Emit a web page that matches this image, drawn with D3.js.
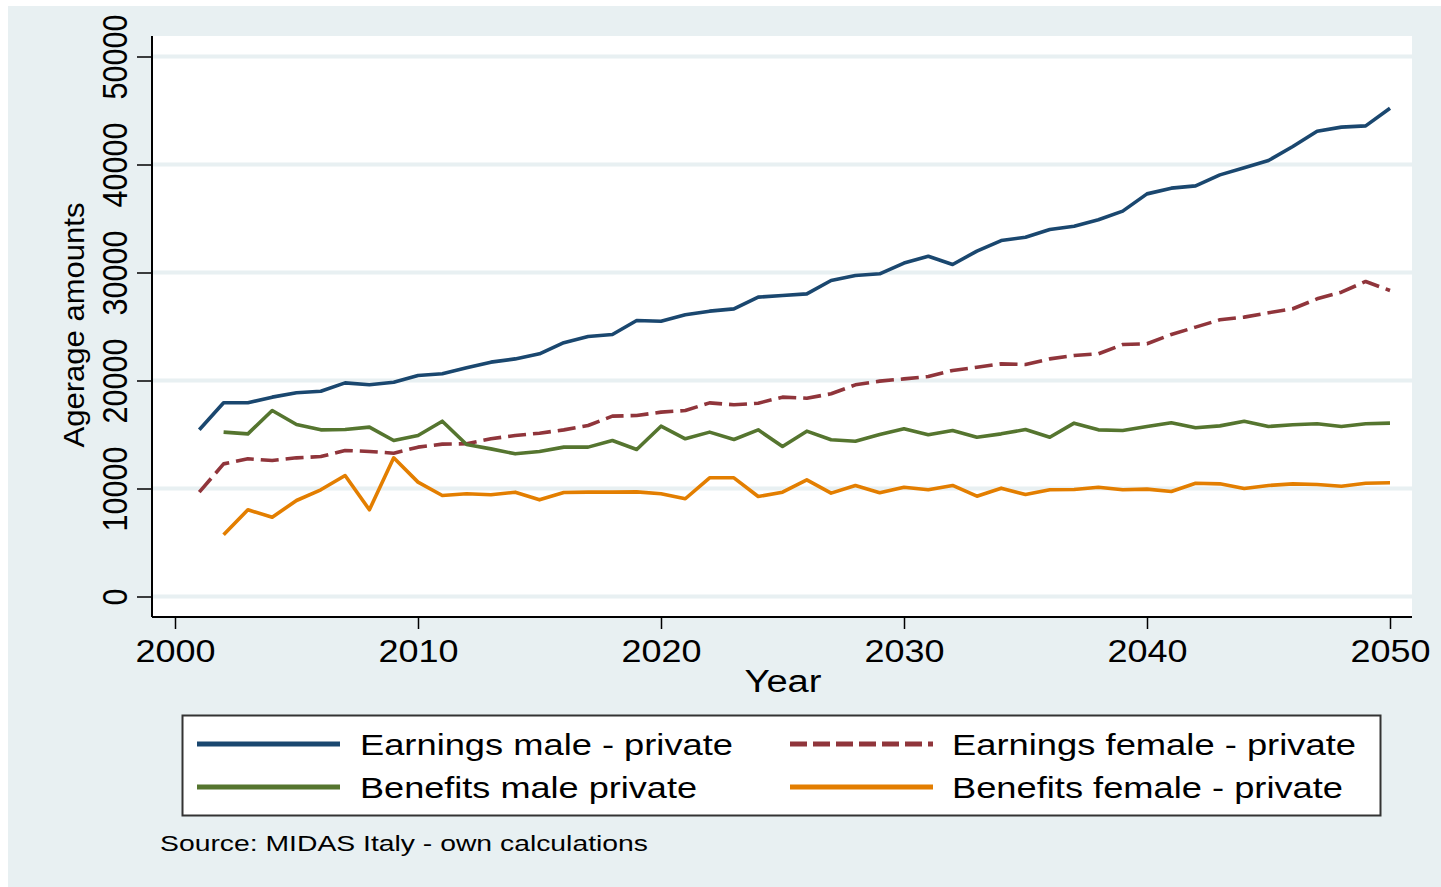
<!DOCTYPE html>
<html>
<head>
<meta charset="utf-8">
<script src="https://cdn.jsdelivr.net/npm/d3@7"></script>
<style>
body{margin:0;background:#fff;}
text{font-family:"Liberation Sans",Arial,sans-serif;fill:#000;}
</style>
</head>
<body>
<div id="chart"></div>
<script>
// data, one value per year
let yearsEarn = d3.range(2001, 2051);
let yearsBen = d3.range(2002, 2051);

let earnMale = [15435,17935,17935,18460,18860,19010,19780,19600,19840,20460,
  20620,21170,21700,22000,22470,23500,24070,24260,25560,25490,
  26080,26420,26630,27720,27870,28020,29260,29720,29880,30870,
  31510,30740,31980,32960,33270,33980,34290,34880,35680,37280,
  37810,38020,39040,39690,40370,41670,43080,43460,43580,45210];
let earnFemale = [9660,12280,12750,12590,12840,12960,13520,13430,13270,13830,
  14110,14140,14600,14910,15120,15430,15830,16700,16760,17070,
  17220,17930,17750,17900,18460,18360,18770,19600,19940,20150,
  20370,20930,21230,21540,21480,22000,22310,22470,23330,23400,
  24260,24940,25620,25870,26270,26640,27560,28180,29170,28330];
let benMale = [15220,15060,17220,15930,15430,15460,15680,14440,14910,
  16230,14070,13670,13210,13430,13830,13830,14440,13610,15770,
  14600,15220,14540,15430,13890,15310,14510,14380,15000,15530,
  14970,15370,14750,15060,15460,14750,16050,15430,15370,15740,
  16080,15620,15800,16230,15740,15900,15990,15740,15990,16050];
let benFemale = [5710,8030,7340,8890,9880,11200,8030,12840,10590,
  9350,9510,9420,9660,8950,9630,9660,9660,9690,9510,
  9050,10990,10990,9260,9660,10800,9570,10280,9600,10120,
  9880,10280,9290,10030,9440,9880,9910,10120,9880,9940,
  9720,10490,10430,10000,10280,10430,10370,10210,10490,10530];

let xTicks = [2000,2010,2020,2030,2040,2050];
let yTicks = [0,10000,20000,30000,40000,50000];

let seriesNames = ["Earnings male - private","Earnings female - private","Benefits male private","Benefits female - private"];
let seriesColors = ["#1a476f","#90353b","#55752f","#e37e00"];

let width = 1441;
let height = 887;
let bg = "#e8f0f2";

let series = [
  {name: seriesNames[0], years: yearsEarn, values: earnMale, color: seriesColors[0], dash: null},
  {name: seriesNames[1], years: yearsEarn, values: earnFemale, color: seriesColors[1], dash: "18,7"},
  {name: seriesNames[2], years: yearsBen, values: benMale, color: seriesColors[2], dash: null},
  {name: seriesNames[3], years: yearsBen, values: benFemale, color: seriesColors[3], dash: null}
];

let plot = {left: 152, top: 36, right: 1412, bottom: 617};

let svg = d3.select("#chart").append("svg")
  .attr("width", width)
  .attr("height", height);

svg.append("rect")
  .attr("x", 8).attr("y", 6)
  .attr("width", width - 8).attr("height", height - 6)
  .attr("fill", bg);

svg.append("rect")
  .attr("x", plot.left).attr("y", plot.top)
  .attr("width", plot.right - plot.left).attr("height", plot.bottom - plot.top)
  .attr("fill", "#fff");

let x = d3.scaleLinear().domain([2000, 2050]).range([175, 1390]);
let y = d3.scaleLinear().domain([0, 50000]).range([596.5, 56.5]);

// grid
svg.append("g").selectAll("line")
  .data(yTicks)
  .enter()
  .append("line")
  .attr("x1", plot.left)
  .attr("x2", plot.right)
  .attr("y1", d => y(d))
  .attr("y2", d => y(d))
  .attr("stroke", bg)
  .attr("stroke-width", 4);

// lines
let line = d3.line()
  .x(d => x(d[0]))
  .y(d => y(d[1]));

series.forEach(function(s){
  let pts = s.years.map((yr, i) => [yr, s.values[i]]);
  svg.append("path")
    .datum(pts)
    .attr("d", line)
    .attr("fill", "none")
    .attr("stroke", s.color)
    .attr("stroke-width", 3.6)
    .attr("stroke-linejoin", "round")
    .attr("stroke-dasharray", s.dash);
});

// axes
let yAxis = d3.axisLeft(y).tickValues(yTicks).tickFormat(d3.format("d")).tickSizeInner(15).tickSizeOuter(0);
let gy = svg.append("g")
  .attr("transform", "translate(" + plot.left + ",0)")
  .call(yAxis);
gy.select(".domain").remove();
gy.selectAll(".tick line").attr("stroke", "#000").attr("stroke-width", 1.5);
gy.selectAll(".tick text")
  .attr("transform", "rotate(-90)")
  .attr("x", 0)
  .attr("y", -25)
  .attr("dy", null)
  .attr("text-anchor", "middle")
  .attr("font-size", 35)
  .attr("font-family", null)
  .attr("textLength", d => String(d).length * 17)
  .attr("lengthAdjust", "spacingAndGlyphs");

let xAxis = d3.axisBottom(x).tickValues(xTicks).tickFormat(d3.format("d")).tickSizeInner(12).tickSizeOuter(0);
let gx = svg.append("g")
  .attr("transform", "translate(0," + plot.bottom + ")")
  .call(xAxis);
gx.select(".domain").remove();
gx.selectAll(".tick line").attr("stroke", "#000").attr("stroke-width", 1.5);
gx.selectAll(".tick text")
  .attr("y", 45)
  .attr("dy", null)
  .attr("font-size", 31)
  .attr("font-family", null)
  .attr("textLength", 80)
  .attr("lengthAdjust", "spacingAndGlyphs");

svg.append("line")
  .attr("x1", plot.left).attr("x2", plot.left)
  .attr("y1", plot.top).attr("y2", plot.bottom)
  .attr("stroke", "#000").attr("stroke-width", 2);
svg.append("line")
  .attr("x1", plot.left).attr("x2", plot.right)
  .attr("y1", plot.bottom).attr("y2", plot.bottom)
  .attr("stroke", "#000").attr("stroke-width", 2);

// axis titles
svg.append("text").text("Agerage amounts")
  .attr("transform", "translate(84,325) rotate(-90)")
  .attr("text-anchor", "middle")
  .attr("font-size", 29)
  .attr("textLength", 245)
  .attr("lengthAdjust", "spacingAndGlyphs");

svg.append("text").text("Year")
  .attr("x", 783).attr("y", 692)
  .attr("text-anchor", "middle")
  .attr("font-size", 31)
  .attr("textLength", 77)
  .attr("lengthAdjust", "spacingAndGlyphs");

// legend
svg.append("rect")
  .attr("x", 182.5).attr("y", 715.5)
  .attr("width", 1198).attr("height", 100)
  .attr("fill", "#fff")
  .attr("stroke", "#333")
  .attr("stroke-width", 2);

let legendPos = [[197, 360, 744], [790, 952, 744], [197, 360, 787], [790, 952, 787]];
let legendLen = [373, 404, 337, 391];

series.forEach(function(s, i){
  let p = legendPos[i];
  svg.append("line")
    .attr("x1", p[0]).attr("x2", p[0] + 143)
    .attr("y1", p[2]).attr("y2", p[2])
    .attr("stroke", s.color)
    .attr("stroke-width", 5)
    .attr("stroke-dasharray", s.dash ? "17,6" : null);
  svg.append("text").text(s.name)
    .attr("x", p[1]).attr("y", p[2] + 11)
    .attr("font-size", 29)
    .attr("textLength", legendLen[i])
    .attr("lengthAdjust", "spacingAndGlyphs");
});

svg.append("text").text("Source: MIDAS Italy - own calculations")
  .attr("x", 160).attr("y", 851)
  .attr("font-size", 22)
  .attr("textLength", 488)
  .attr("lengthAdjust", "spacingAndGlyphs");
</script>
</body>
</html>
